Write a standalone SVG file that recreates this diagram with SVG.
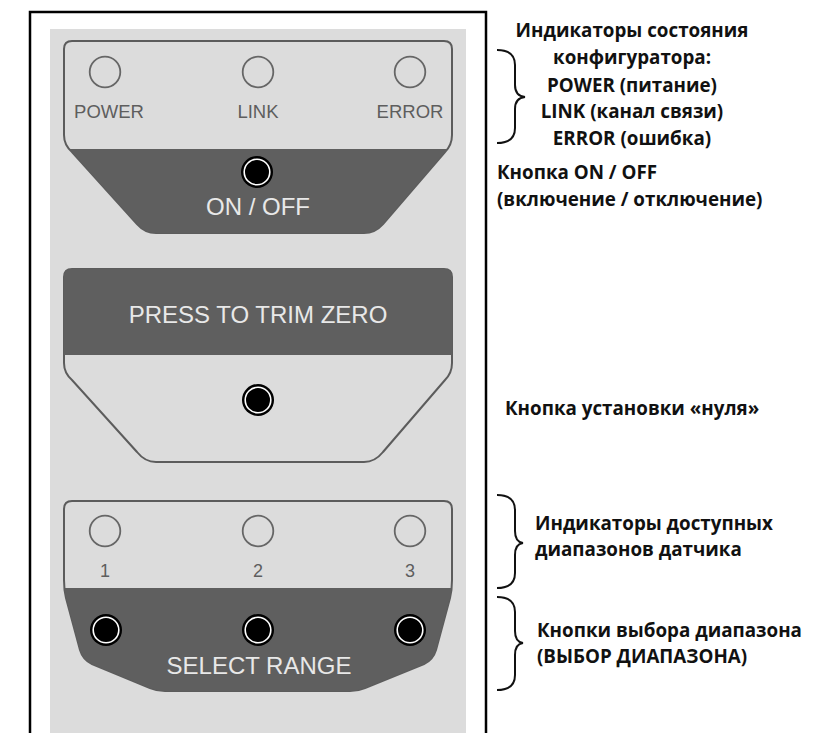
<svg xmlns="http://www.w3.org/2000/svg" xmlns:xlink="http://www.w3.org/1999/xlink" width="824" height="733" viewBox="0 0 824 733">
<style>
.panel{fill:#dcdcdc;stroke:#5c5c5c;stroke-width:2}
.dark{fill:#5f5f5f}
.led{fill:none;stroke:#666;stroke-width:1.8}
.lbl{font-family:"Liberation Sans",Arial,sans-serif;fill:#5e5e5e;text-anchor:middle}
.lblw{font-family:"Liberation Sans",Arial,sans-serif;fill:#e8e8e8;text-anchor:middle;font-size:24px}
.note{font-family:"Open Sans","Noto Sans",sans-serif;font-weight:700;fill:#111;font-size:18.8px}
.brace{fill:none;stroke:#111;stroke-width:2}
</style>
<defs>
<g id="btn"><circle r="16" fill="#000"/><circle r="12.8" fill="none" stroke="#fff" stroke-width="1.6"/></g>
<clipPath id="c1"><rect x="0" y="149" width="824" height="100"/></clipPath>
<clipPath id="c2"><rect x="0" y="260" width="824" height="95"/></clipPath>
<clipPath id="c3"><rect x="0" y="588" width="824" height="120"/></clipPath>
</defs>
<rect width="824" height="733" fill="#fff"/>
<rect x="50" y="29" width="416" height="704" fill="#dcdcdc"/>
<path d="M30,733 V12 H486 V733" fill="none" stroke="#000" stroke-width="2.5"/>

<g id="panel-status">
<path class="panel" d="M72,41 H444 Q452,41 452,49 V135 Q452,145 445,152 L383,224 Q375,233 364,233 H156 Q145,233 137,224 L72,152 Q64,145 64,135 V49 Q64,41 72,41 Z"/>
<path class="dark" clip-path="url(#c1)" d="M72,41 H444 Q452,41 452,49 V135 Q452,145 445,152 L383,224 Q375,233 364,233 H156 Q145,233 137,224 L72,152 Q64,145 64,135 V49 Q64,41 72,41 Z"/>
<circle class="led" cx="105" cy="72" r="15.3"/>
<circle class="led" cx="258" cy="72" r="15.3"/>
<circle class="led" cx="410" cy="72" r="15.3"/>
<text class="lbl" x="109" y="118" font-size="18.5">POWER</text>
<text class="lbl" x="258" y="118" font-size="18.5">LINK</text>
<text class="lbl" x="410" y="118" font-size="18.5">ERROR</text>
<use xlink:href="#btn" x="257" y="172"/>
<text class="lblw" x="258" y="215">ON / OFF</text>
</g>

<g id="panel-zero">
<path class="panel" d="M72,269 H444 Q452,269 452,277 V363 Q452,373 445,380 L383,452 Q375,462 364,462 H156 Q145,462 137,452 L72,380 Q64,373 64,363 V277 Q64,269 72,269 Z"/>
<path class="dark" clip-path="url(#c2)" d="M72,269 H444 Q452,269 452,277 V363 Q452,373 445,380 L383,452 Q375,462 364,462 H156 Q145,462 137,452 L72,380 Q64,373 64,363 V277 Q64,269 72,269 Z"/>
<text class="lblw" x="258" y="323">PRESS TO TRIM ZERO</text>
<use xlink:href="#btn" x="258" y="400"/>
</g>

<g id="panel-range">
<path class="panel" d="M72,501 H444 Q452,501 452,509 V580 Q452,590 450,598 L436,650 Q433,660 424,664 L365,688 Q358,691 350,691 H165 Q157,691 150,688 L92,664 Q83,660 80,650 L66,598 Q64,590 64,580 V509 Q64,501 72,501 Z"/>
<path class="dark" clip-path="url(#c3)" d="M72,501 H444 Q452,501 452,509 V580 Q452,590 450,598 L436,650 Q433,660 424,664 L365,688 Q358,691 350,691 H165 Q157,691 150,688 L92,664 Q83,660 80,650 L66,598 Q64,590 64,580 V509 Q64,501 72,501 Z"/>
<circle class="led" cx="105" cy="531" r="15.3"/>
<circle class="led" cx="258" cy="531" r="15.3"/>
<circle class="led" cx="410" cy="531" r="15.3"/>
<text class="lbl" x="105" y="577" font-size="18">1</text>
<text class="lbl" x="258" y="577" font-size="18">2</text>
<text class="lbl" x="410" y="577" font-size="18">3</text>
<use xlink:href="#btn" x="106" y="630"/>
<use xlink:href="#btn" x="258" y="630"/>
<use xlink:href="#btn" x="410" y="630"/>
<text class="lblw" x="259" y="674">SELECT RANGE</text>
</g>

<g id="connectors">
<path class="brace" d="M497,50 Q515,50 515,65 V85 Q515,96 525,97 Q515,98 515,109 V128 Q515,143 497,143"/>
<path class="brace" d="M497,495 Q515,495 515,510 V531 Q515,542 523,543 Q515,544 515,555 V573 Q515,588 497,588"/>
<path class="brace" d="M497,597 Q515,597 515,612 V631 Q515,642 523,643 Q515,644 515,655 V675 Q515,690 497,690"/>
</g>

<g id="note-status">
<text class="note" text-anchor="middle" x="632" y="37">Индикаторы состояния</text>
<text class="note" text-anchor="middle" x="632" y="64">конфигуратора:</text>
<text class="note" text-anchor="middle" x="632" y="92">POWER (питание)</text>
<text class="note" text-anchor="middle" x="632" y="118">LINK (канал связи)</text>
<text class="note" text-anchor="middle" x="632" y="145">ERROR (ошибка)</text>
</g>
<g id="note-onoff">
<text class="note" x="497" y="179">Кнопка ON / OFF</text>
<text class="note" x="497" y="206">(включение / отключение)</text>
</g>
<g id="note-zero">
<text class="note" x="505" y="415">Кнопка установки «нуля»</text>
</g>
<g id="note-leds">
<text class="note" x="535" y="530">Индикаторы доступных</text>
<text class="note" x="535" y="556">диапазонов датчика</text>
</g>
<g id="note-buttons">
<text class="note" x="537" y="637">Кнопки выбора диапазона</text>
<text class="note" x="537" y="663">(ВЫБОР ДИАПАЗОНА)</text>
</g>
</svg>
